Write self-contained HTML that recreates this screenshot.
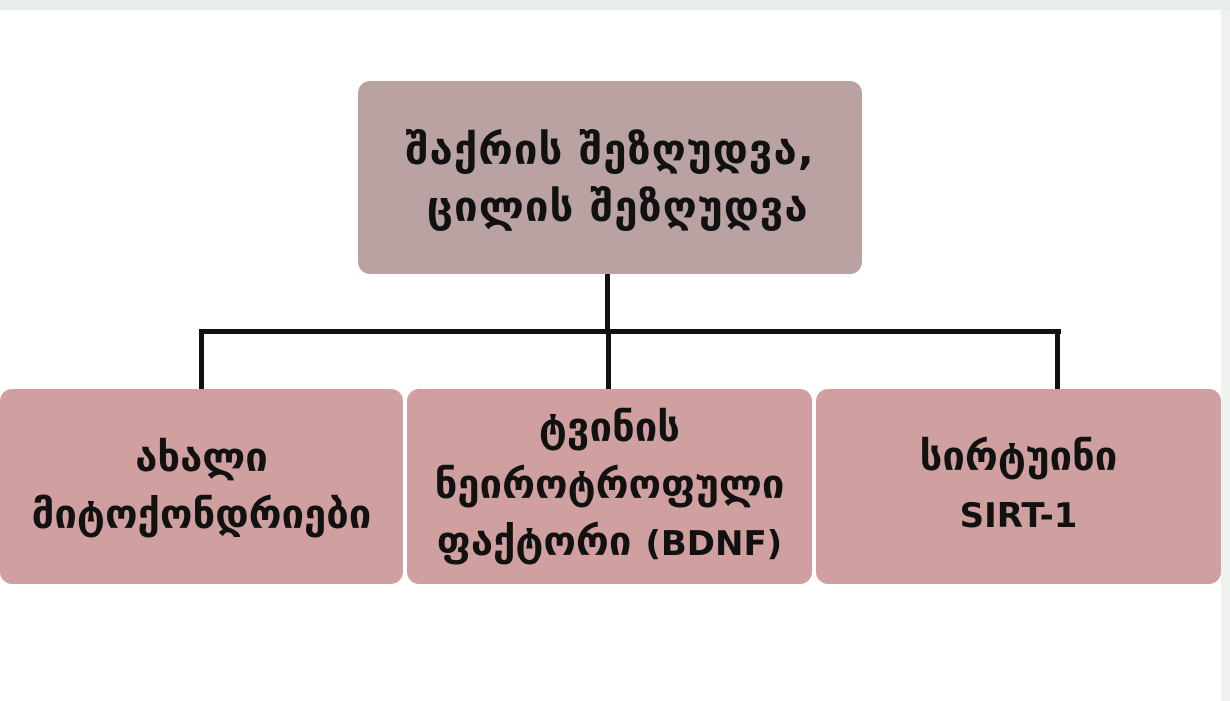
<!DOCTYPE html>
<html><head><meta charset="utf-8"><style>
body{margin:0;width:1230px;height:701px;background:#fff;position:relative;overflow:hidden;font-family:"DejaVu Sans","Liberation Sans",sans-serif;font-weight:bold;color:#111}
.bar{position:absolute;left:0;top:0;width:1230px;height:10px;background:#e9ecec}
.rs{position:absolute;left:1221px;top:10px;width:9px;height:691px;background:#eef2ee}
.bx{position:absolute;display:flex;align-items:center;justify-content:center;text-align:center;border-radius:12px;font-size:40px;line-height:57px;white-space:nowrap}
.la{font-size:34px}
.l{position:absolute;background:#111}
</style></head><body>
<div class="bar"></div><div class="rs"></div>
<div class="l" style="left:605px;top:272px;width:5px;height:62px"></div>
<div class="l" style="left:199px;top:329px;width:862px;height:5px"></div>
<div class="l" style="left:199px;top:329px;width:5px;height:62px"></div>
<div class="l" style="left:606px;top:329px;width:5px;height:62px"></div>
<div class="l" style="left:1055px;top:329px;width:5px;height:62px"></div>
<div class="bx" style="left:358px;top:81px;width:504px;height:193px;background:#bba2a2;font-size:42px;letter-spacing:1px"><div>შაქრის შეზღუდვა,<br>&nbsp;ცილის შეზღუდვა</div></div>
<div class="bx" style="left:0;top:389px;width:403px;height:195px;background:#cfa09f"><div>ახალი<br>მიტოქონდრიები</div></div>
<div class="bx" style="left:407px;top:389px;width:405px;height:195px;background:#cfa09f"><div>ტვინის<br>ნეიროტროფული<br>ფაქტორი <span class="la">(BDNF)</span></div></div>
<div class="bx" style="left:816px;top:389px;width:405px;height:195px;background:#cfa09f"><div>სირტუინი<br><span class="la">SIRT-1</span></div></div>
</body></html>
